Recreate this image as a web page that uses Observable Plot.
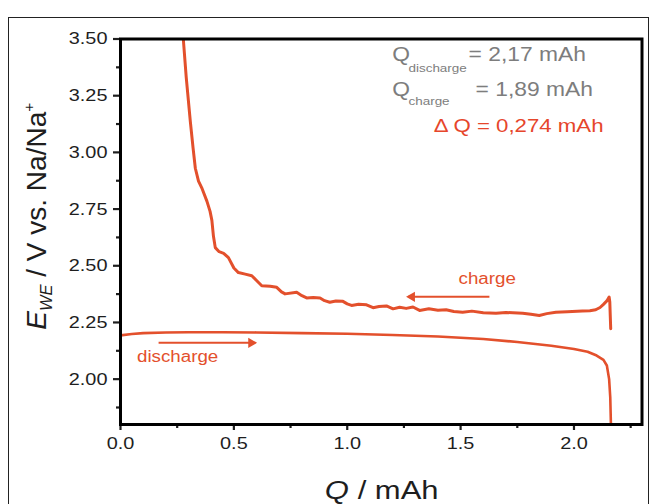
<!DOCTYPE html>
<html>
<head>
<meta charset="utf-8">
<script src="https://cdn.jsdelivr.net/npm/d3@7"></script>
<script src="https://cdn.jsdelivr.net/npm/@observablehq/plot@0.6"></script>
<style>
  body { margin: 0; background: #fff; }
  #wrap { position: relative; width: 655px; height: 504px; overflow: hidden; background: #fff; }
  #border { position: absolute; left: 8px; top: 17px; width: 639px; height: 500px; border: 1px solid #222; z-index: 2; pointer-events: none; }
  #wrap svg { position: absolute; left: 0; top: 0; z-index: 1; }
</style>
</head>
<body>
<div id="wrap"><div id="border"></div></div>
<script>
// ---- data ----
const dischargeQ = [0, 0.05, 0.1, 0.2, 0.3, 0.45, 0.6, 0.8, 1.0, 1.2, 1.4, 1.6, 1.75, 1.9, 2.0, 2.06, 2.1, 2.13, 2.145, 2.155, 2.16, 2.163];
const dischargeE = [2.193, 2.199, 2.203, 2.206, 2.207, 2.207, 2.206, 2.203, 2.2, 2.195, 2.188, 2.177, 2.164, 2.147, 2.133, 2.121, 2.104, 2.085, 2.06, 2.0, 1.92, 1.80];

const chargeQ = [0.277, 0.29, 0.308, 0.32, 0.33, 0.344, 0.36, 0.381, 0.395, 0.403, 0.41, 0.418, 0.435, 0.455, 0.476, 0.5, 0.52, 0.55, 0.579, 0.6, 0.623, 0.66, 0.689, 0.71, 0.726, 0.777, 0.8, 0.821, 0.85, 0.88, 0.9, 0.923, 0.95, 0.981, 1.0, 1.019, 1.05, 1.085, 1.114, 1.14, 1.173, 1.202, 1.231, 1.26, 1.29, 1.319, 1.36, 1.4, 1.436, 1.47, 1.509, 1.55, 1.6, 1.656, 1.7, 1.774, 1.81, 1.847, 1.88, 1.92, 1.97, 2.037, 2.07, 2.096, 2.115, 2.13, 2.145, 2.155, 2.158, 2.16, 2.162];
const chargeE = [3.5, 3.33, 3.136, 3.02, 2.93, 2.873, 2.84, 2.785, 2.74, 2.7, 2.63, 2.58, 2.562, 2.555, 2.536, 2.49, 2.47, 2.463, 2.456, 2.435, 2.412, 2.41, 2.405, 2.385, 2.376, 2.383, 2.368, 2.358, 2.36, 2.358, 2.346, 2.339, 2.345, 2.343, 2.332, 2.325, 2.33, 2.328, 2.315, 2.32, 2.323, 2.31, 2.317, 2.312, 2.318, 2.303, 2.31, 2.304, 2.306, 2.298, 2.295, 2.3, 2.293, 2.291, 2.294, 2.291, 2.286, 2.281, 2.289, 2.295, 2.297, 2.3, 2.302, 2.306, 2.316, 2.33, 2.345, 2.362, 2.34, 2.28, 2.222];

const xTicks = [0, 0.5, 1.0, 1.5, 2.0];
const xMinorTicks = [0.25, 0.75, 1.25, 1.75, 2.25];
const yTicks = [2.0, 2.25, 2.5, 2.75, 3.0, 3.25, 3.5];
const yMinorTicks = [1.875, 2.125, 2.375, 2.625, 2.875, 3.125, 3.375];

// direction arrows (discharge →, charge ←)
const arrowFrom = [0.168, 1.627];
const arrowTo = [0.594, 1.268];
const arrowE = [2.160, 2.363];

// curve labels
const curveLabels = ["discharge", "charge"];
const curveLabelQ = [0.073, 1.491];
const curveLabelE = [2.075, 2.419];

// capacity annotation
const noteText = ["Q", "= 2,17 mAh", "Q", "= 1,89 mAh"];
const noteQ = [1.198, 1.535, 1.198, 1.566];
const noteE = [3.402, 3.402, 3.247, 3.247];
const noteSub = ["discharge", "charge"];
const noteSubQ = [1.27, 1.27];
const noteSubE = [3.353, 3.208];
const deltaText = ["\u0394 Q = 0,274 mAh"];
const deltaQ = [1.381];
const deltaE = [3.089];

const RED = "#e3502c";
const DRED = "#e6462b";
const GRAY = "#7d7d7d";
const FONT = "'Liberation Sans', Arial, Helvetica, sans-serif";

const discharge = dischargeQ.map((q, i) => ({q, e: dischargeE[i]}));
const charge = chargeQ.map((q, i) => ({q, e: chargeE[i]}));
const arrows = arrowFrom.map((q1, i) => ({q1, q2: arrowTo[i], e: arrowE[i]}));
const labels = curveLabels.map((t, i) => ({t, q: curveLabelQ[i], e: curveLabelE[i]}));
const notes = noteText.map((t, i) => ({t, q: noteQ[i], e: noteE[i]}));
const subs = noteSub.map((t, i) => ({t, q: noteSubQ[i], e: noteSubE[i]}));
const delta = deltaText.map((t, i) => ({t, q: deltaQ[i], e: deltaE[i]}));

const chart = Plot.plot({
  width: 655,
  height: 504,
  marginLeft: 120,
  marginRight: 13.5,
  marginTop: 38.5,
  marginBottom: 80,
  x: {domain: [0, 2.3]},
  y: {domain: [1.80, 3.5]},
  style: {fontFamily: FONT, fontSize: "17px", color: "#1e1e1e", background: "transparent", overflow: "visible"},
  marks: [
    Plot.line(discharge, {x: "q", y: "e", stroke: RED, strokeWidth: 2.6, clip: true}),
    Plot.line(charge, {x: "q", y: "e", stroke: RED, strokeWidth: 3, clip: true}),
    Plot.link(arrows, {x1: "q1", x2: "q2", y1: "e", y2: "e", stroke: RED, strokeWidth: 2}),
    Plot.dot(arrows.slice(0, 1), {x: "q2", y: "e", symbol: "triangle", r: 3.8, fill: RED, stroke: "none", rotate: 90, dx: -4}),
    Plot.dot(arrows.slice(1), {x: "q2", y: "e", symbol: "triangle", r: 3.8, fill: RED, stroke: "none", rotate: -90, dx: 4}),
    Plot.text(labels, {x: "q", y: "e", text: "t", fill: RED, fontSize: 16, textAnchor: "start", lineAnchor: "bottom"}),
    Plot.text(notes, {x: "q", y: "e", text: "t", fill: GRAY, fontSize: 19.5, textAnchor: "start", lineAnchor: "bottom"}),
    Plot.text(subs, {x: "q", y: "e", text: "t", fill: GRAY, fontSize: 11.5, textAnchor: "start", lineAnchor: "bottom"}),
    Plot.text(delta, {x: "q", y: "e", text: "t", fill: DRED, fontSize: 19, textAnchor: "start", lineAnchor: "bottom"}),
    Plot.axisX({ticks: xTicks, tickSize: 6, tickPadding: 6, tickFormat: d => d.toFixed(1), label: null, strokeWidth: 2.2}),
    Plot.axisX({ticks: xMinorTicks, tickSize: 4, tickFormat: () => "", label: null, strokeWidth: 2.2}),
    Plot.axisY({ticks: yTicks, tickSize: 7, tickPadding: 6, tickFormat: d => d.toFixed(2), label: null, strokeWidth: 2.2}),
    Plot.axisY({ticks: yMinorTicks, tickSize: 4, tickFormat: () => "", label: null, strokeWidth: 2.2}),
    Plot.frame({stroke: "#000", strokeWidth: 3})
  ]
});

document.getElementById("wrap").append(chart);

const xs = chart.scale("x"), ys = chart.scale("y");
const plotLeft = xs.range[0], plotRight = xs.range[1];
const plotBottom = ys.range[0], plotTop = ys.range[1];
const svg = d3.select(chart);

// x-axis title
svg.append("text")
  .attr("x", (plotLeft + plotRight) / 2 + 1).attr("y", plotBottom + 75)
  .attr("text-anchor", "middle").attr("font-size", 26.5).attr("fill", "#1e1e1e")
  .attr("font-family", FONT)
  .call(t => {
    t.append("tspan").attr("font-style", "italic").text("Q");
    t.append("tspan").text(" / mAh");
  });

// horizontal stretch of the text to mimic the reference's wide lettering
const STRETCH = 1.17;
chart.querySelectorAll("text").forEach(t => {
  const L = t.getComputedTextLength();
  if (L > 0) {
    t.setAttribute("textLength", (L * STRETCH).toFixed(2));
    t.setAttribute("lengthAdjust", "spacingAndGlyphs");
  }
});

// y-axis title (rotated)
svg.append("text")
  .attr("transform", `translate(46,${(plotTop + plotBottom) / 2 - 15}) rotate(-90)`)
  .attr("text-anchor", "middle").attr("font-size", 28).attr("fill", "#1e1e1e")
  .attr("font-family", FONT)
  .call(t => {
    t.append("tspan").attr("font-style", "italic").text("E");
    t.append("tspan").attr("font-style", "italic").attr("font-size", 16.5).attr("dy", 6).text("WE");
    t.append("tspan").attr("dy", -6).text(" / V vs. Na/Na");
    t.append("tspan").attr("font-size", 15.5).attr("dy", -12).text("+");
  });
</script>
</body>
</html>
